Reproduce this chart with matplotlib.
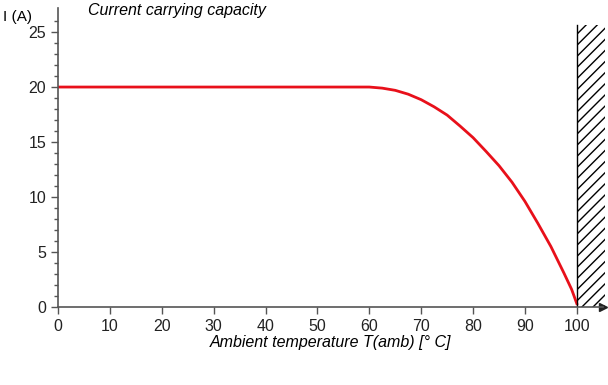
import numpy as np
import matplotlib
matplotlib.use("Agg")
import matplotlib.pyplot as plt
from matplotlib.patches import Rectangle

# values
temp = [0, 60, 62.5, 65, 67.5, 70, 72.5, 75, 77.5, 80, 82.5, 85, 87.5,
        90, 92.5, 95, 97.5, 99, 100]
current = [20, 20, 19.9, 19.7, 19.35, 18.85, 18.2, 17.45, 16.45, 15.4, 14.15,
           12.85, 11.35, 9.6, 7.6, 5.5, 3.1, 1.6, 0.3]
x_ticks = [0, 10, 20, 30, 40, 50, 60, 70, 80, 90, 100]
y_ticks = [0, 5, 10, 15, 20, 25]
t_max = 100
hatch_top = 25.6

plt.rcParams['font.family'] = ['Liberation Sans', 'DejaVu Sans']
plt.rcParams['hatch.linewidth'] = 1.0

fig = plt.figure(figsize=(6.08, 3.85), dpi=100)
ax = fig.add_axes([0.0954, 0.2026, 0.896, 0.777])

ax.plot(temp, current, color='#e8101a', lw=2)

# forbidden zone above 100 degC
ax.add_patch(Rectangle((t_max, 0), 5.5, hatch_top, facecolor='none',
                       edgecolor='black', hatch='///', lw=0, clip_on=False))
ax.plot([t_max, t_max], [0, hatch_top], color='black', lw=1)

ax.set_xlim(0, 105)
ax.set_ylim(0, 27.2)
ax.set_xticks(x_ticks)
ax.set_yticks(y_ticks)
ax.set_yticks(np.arange(0, 27, 1), minor=True)

for s in ['top', 'right']:
    ax.spines[s].set_visible(False)
for s in ['left', 'bottom']:
    ax.spines[s].set_color('#555555')
    ax.spines[s].set_linewidth(1.2)

ax.tick_params(which='major', direction='out', length=5, width=1, color='#555555',
               labelsize=11.5, labelcolor='#222222')
ax.tick_params(which='minor', direction='out', length=3, width=1, color='#555555')

# arrow at end of x axis
ax.plot(1, 0, marker='>', color='#222222', markersize=6, transform=ax.transAxes, clip_on=False)

ax.set_xlabel('Ambient temperature T(amb) [° C]', style='italic', fontsize=11.5, labelpad=1)
fig.text(0.005, 0.955, 'I (A)', fontsize=11, ha='left', va='center')
fig.text(0.145, 0.972, 'Current carrying capacity', style='italic', fontsize=11.5,
         ha='left', va='center')

fig.savefig('out.png', dpi=100)
